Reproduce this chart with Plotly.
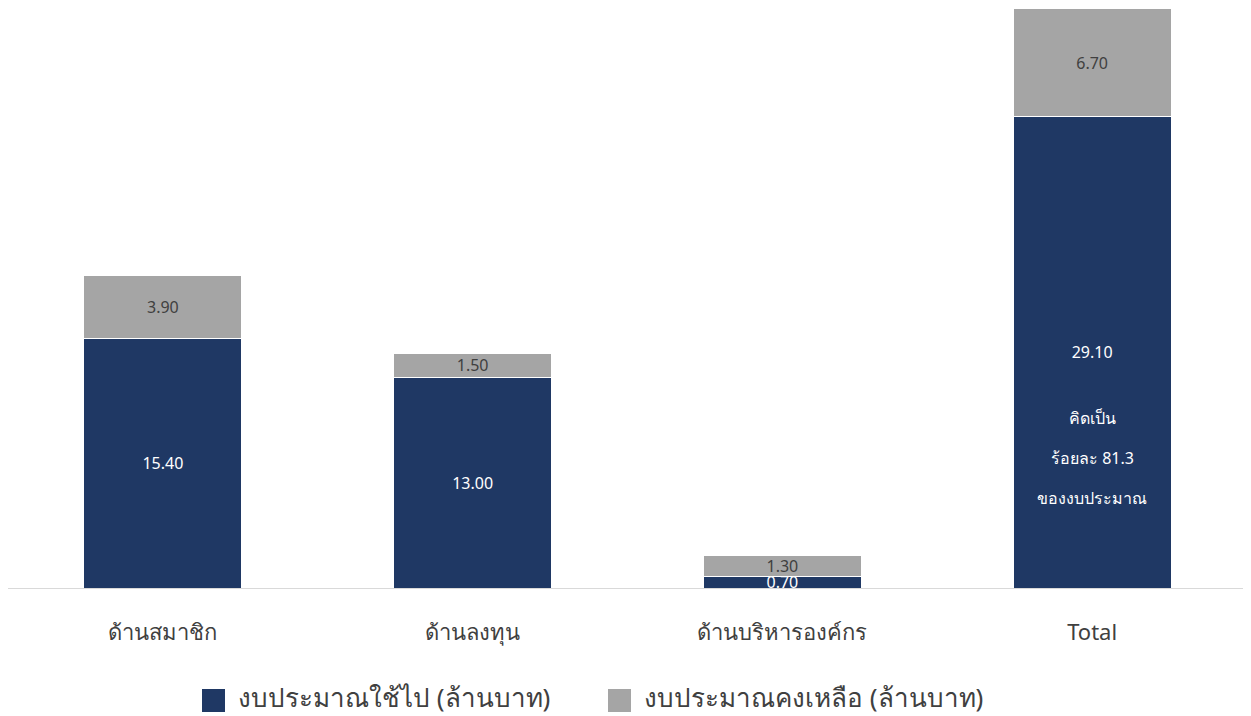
import plotly.graph_objects as go

categories = ["ด้านสมาชิก", "ด้านลงทุน", "ด้านบริหารองค์กร", "Total"]
used = [15.40, 13.00, 0.70, 29.10]
remaining = [3.90, 1.50, 1.30, 6.70]
series_names = ["งบประมาณใช้ไป (ล้านบาท)", "งบประมาณคงเหลือ (ล้านบาท)"]
series_colors = ["#1F3864", "#A5A5A5"]
note_lines = ["คิดเป็น", "ร้อยละ 81.3", "ของงบประมาณ"]
note_y = [10.5, 8.03, 5.56]

FONT = "Noto Sans, Tahoma, sans-serif"
OFF = 8  # page body margin offset
W, H = 1251 - OFF, 716 - OFF
ML, MR, MT, MB = 0, 4, 0, 128
PW, PH = W - ML - MR, H - MT - MB

def px_x(x):
    return (x - OFF - ML) / PW

def px_y(y):
    return (H - MB - (y - OFF)) / PH

fig = go.Figure()
fig.add_trace(go.Bar(
    x=categories, y=used, name=series_names[0],
    marker=dict(color=series_colors[0], line=dict(color="white", width=1)),
    text=[f"{v:.2f}" for v in used], textposition="inside",
    insidetextanchor="middle", constraintext="none",
    textfont=dict(color="white", size=16, family=FONT),
    showlegend=False,
))
fig.add_trace(go.Bar(
    x=categories, y=remaining, name=series_names[1],
    marker=dict(color=series_colors[1], line=dict(color="white", width=1)),
    text=[f"{v:.2f}" for v in remaining], textposition="inside",
    insidetextanchor="middle", constraintext="none",
    textfont=dict(color="#404040", size=16, family=FONT),
    showlegend=False,
))

for line, yv in zip(note_lines, note_y):
    fig.add_annotation(x="Total", y=yv, text=line, showarrow=False,
                       font=dict(color="white", size=16, family=FONT))

# custom legend (large square markers like the reference)
legend_items = [(202, series_names[0], series_colors[0]), (608, series_names[1], series_colors[1])]
for x0, name, col in legend_items:
    fig.add_shape(type="rect", xref="paper", yref="paper",
                  x0=px_x(x0), x1=px_x(x0 + 23), y0=px_y(689), y1=px_y(712),
                  fillcolor=col, line=dict(width=0))
    fig.add_annotation(xref="paper", yref="paper", x=px_x(x0 + 34), y=px_y(697),
                       xanchor="left", yanchor="middle", text=name, showarrow=False,
                       font=dict(size=26, color="#404040", family=FONT))

fig.update_layout(
    barmode="stack",
    bargap=0.49,
    width=W, height=H,
    margin=dict(l=ML, r=MR, t=MT, b=MB, autoexpand=False),
    plot_bgcolor="white", paper_bgcolor="white",
    font=dict(family=FONT, color="#404040"),
    showlegend=False,
    xaxis=dict(showline=True, linecolor="#D9D9D9", linewidth=1,
               tickfont=dict(size=22, color="#404040", family=FONT),
               ticks="", ticklabelstandoff=25),
    yaxis=dict(range=[0, 35.83], visible=False, showgrid=False),
)

fig.write_html("out.html")
